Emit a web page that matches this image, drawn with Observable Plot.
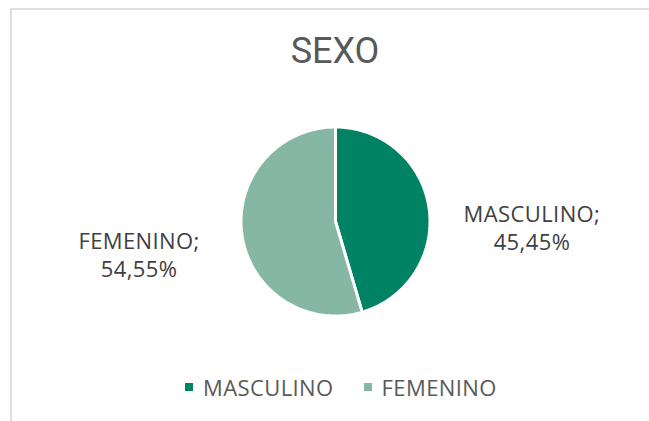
<!DOCTYPE html>
<html><head><meta charset="utf-8">
<script src="https://cdn.jsdelivr.net/npm/d3@7"></script>
<script src="https://cdn.jsdelivr.net/npm/@observablehq/plot@0.6"></script>
<style>
body{margin:0;background:#fff;overflow:hidden}
#wrap{position:relative;width:649px;height:421px;overflow:hidden}
#frame{position:absolute;left:10px;top:8px;width:700px;height:500px;border:2px solid #dedede;box-sizing:border-box;}
#title{position:absolute;left:0;width:670px;text-align:center;top:29px;font:36px Roboto,sans-serif;color:#595959;line-height:44px}
#chart{position:absolute;left:0;top:0}
#chart text{letter-spacing:0.4px}
#legend{position:absolute;left:185px;top:373px;display:flex;align-items:center;font:22px "Open Sans",sans-serif;color:#595959;line-height:28px;letter-spacing:0.4px}
#legend .item{display:flex;align-items:center;margin-right:30px}
#legend .sw{width:8px;height:8px;margin-right:10px}
</style></head>
<body><div id="wrap"><div id="frame"></div><div id="title">SEXO</div><div id="chart"></div><div id="legend"></div></div>
<script>
const categories = ["MASCULINO", "FEMENINO"];
const values = [45.45, 54.55];
const colors = ["#008264", "#86b6a4"];

const data = categories.map((c, i) => ({cat: c, value: values[i]}));
const arcs = d3.pie().sort(null).value(d => d.value)(data);

// polygon outlines for each slice, in unit-circle coordinates (y up)
const pts = [];
for (const a of arcs) {
  const n = 120;
  pts.push({cat: a.data.cat, x: 0, y: 0});
  for (let k = 0; k <= n; k++) {
    const t = a.startAngle + (a.endAngle - a.startAngle) * k / n;
    pts.push({cat: a.data.cat, x: Math.sin(t), y: Math.cos(t)});
  }
  pts.push({cat: a.data.cat, x: 0, y: 0});
}
const labels = arcs.map(a => {
  const m = (a.startAngle + a.endAngle) / 2;
  return {cat: a.data.cat, x: Math.sin(m) * 2.1, y: Math.cos(m) - 0.2,
    text: a.data.cat + ";\n" + a.data.value.toFixed(2).replace(".", ",") + "%"};
});

const cx = 335, cy = 221, r = 94.5;
const plot = Plot.plot({
  width: 649, height: 421, margin: 0,
  x: {domain: [-1, 1], range: [cx - r, cx + r], axis: null},
  y: {domain: [-1, 1], range: [cy + r, cy - r], axis: null},
  color: {domain: categories, range: colors},
  style: {background: "transparent", overflow: "visible"},
  marks: [
    Plot.line(pts, {x: "x", y: "y", z: "cat", fill: "cat", stroke: "white", strokeWidth: 3, strokeLinejoin: "miter"}),
    Plot.text(labels, {x: "x", y: "y", text: "text", fill: "#404040", fontSize: 22, lineHeight: 1.27, fontFamily: "Open Sans", textAnchor: "middle"})
  ]
});
document.getElementById("chart").appendChild(plot);

const leg = document.getElementById("legend");
categories.forEach((c, i) => {
  const it = document.createElement("div"); it.className = "item";
  const sw = document.createElement("div"); sw.className = "sw"; sw.style.background = colors[i];
  const tx = document.createElement("span"); tx.textContent = c;
  it.appendChild(sw); it.appendChild(tx); leg.appendChild(it);
});
</script></body></html>
